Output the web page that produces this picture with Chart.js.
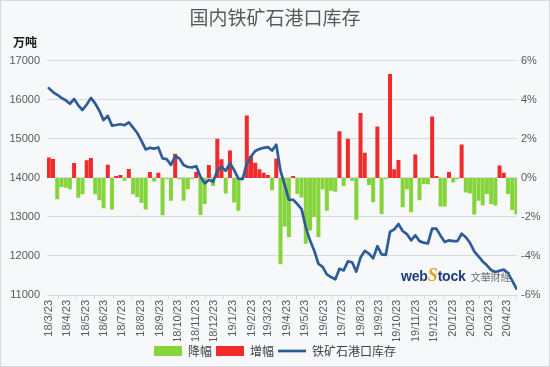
<!DOCTYPE html>
<html>
<head>
<meta charset="utf-8">
<script src="https://cdn.jsdelivr.net/npm/chart.js@4.4.1/dist/chart.umd.min.js"></script>
<style>
html,body{margin:0;padding:0;background:#F7F8FA;}
#wrap{position:relative;width:550px;height:367px;overflow:hidden;}
canvas{display:block;}
#frame{position:absolute;left:0;top:0;width:548px;height:365px;border:1px solid #D6D9DD;pointer-events:none;}
#unit{position:absolute;left:13px;top:34px;font:bold 12px 'Noto Sans CJK SC';color:#1a1a1a;line-height:16px;}
#wm{position:absolute;left:401px;top:265px;white-space:nowrap;line-height:18px;}
#wm .w{font:bold 14px 'Liberation Sans';color:#1E3C78;letter-spacing:-0.2px;}
#wm .s{font:bold italic 18px 'Liberation Serif';color:#E3A21A;}
#wm .c{font:10px 'Noto Sans CJK TC';color:#6a6a6a;margin-left:5px;}
</style>
</head>
<body>
<div id="wrap">
<canvas id="c" width="550" height="367"></canvas>
<div id="unit">万吨</div>
<div id="wm"><span class="w">web</span><span class="s">S</span><span class="w">tock</span><span class="c">文華財經</span></div>
<div id="frame"></div>
</div>
<script>
const weekDates = [
'2018-03-23','2018-03-30','2018-04-06','2018-04-13','2018-04-20','2018-04-27','2018-05-04','2018-05-11','2018-05-18','2018-05-25',
'2018-06-01','2018-06-08','2018-06-15','2018-06-22','2018-06-29','2018-07-06','2018-07-13','2018-07-20','2018-07-27','2018-08-03',
'2018-08-10','2018-08-17','2018-08-24','2018-08-31','2018-09-07','2018-09-14','2018-09-21','2018-09-28','2018-10-05','2018-10-12',
'2018-10-19','2018-10-26','2018-11-02','2018-11-09','2018-11-16','2018-11-23','2018-11-30','2018-12-07','2018-12-14','2018-12-21',
'2018-12-28','2019-01-04','2019-01-11','2019-01-18','2019-01-25','2019-02-01','2019-02-08','2019-02-15','2019-02-22','2019-03-01',
'2019-03-08','2019-03-15','2019-03-22','2019-03-29','2019-04-05','2019-04-12','2019-04-19','2019-04-26','2019-05-03','2019-05-10',
'2019-05-17','2019-05-24','2019-05-31','2019-06-07','2019-06-14','2019-06-21','2019-06-28','2019-07-05','2019-07-12','2019-07-19',
'2019-07-26','2019-08-02','2019-08-09','2019-08-16','2019-08-23','2019-08-30','2019-09-06','2019-09-13','2019-09-20','2019-09-27',
'2019-10-04','2019-10-11','2019-10-18','2019-10-25','2019-11-01','2019-11-08','2019-11-15','2019-11-22','2019-11-29','2019-12-06',
'2019-12-13','2019-12-20','2019-12-27','2020-01-03','2020-01-10','2020-01-17','2020-01-24','2020-01-31','2020-02-07','2020-02-14',
'2020-02-21','2020-02-28','2020-03-06','2020-03-13','2020-03-20','2020-03-27','2020-04-03','2020-04-10','2020-04-17','2020-04-24',
'2020-05-01','2020-05-08'
];

// 铁矿石港口库存 (万吨)
const stockLevels = [
16300,16200,16130,16050,15990,15900,16020,15860,15740,15880,
16050,15910,15720,15480,15590,15340,15355,15375,15350,15420,
15290,15150,14950,14730,14770,14750,14780,14500,14480,14330,
14560,14500,14330,14280,14270,14300,14030,13860,13950,13900,
14180,14290,14180,14380,14200,13980,13970,14370,14550,14690,
14740,14770,14790,14700,14850,14180,13820,13440,13440,13330,
13200,12740,12400,12140,11800,11720,11530,11460,11400,11670,
11630,11860,11840,11600,11960,12130,12060,11940,12250,12040,
12030,12620,12680,12820,12640,12560,12400,12530,12380,12340,
12320,12700,12700,12520,12360,12400,12380,12380,12570,12480,
12330,12120,11990,11860,11760,11640,11590,11620,11650,11560,
11370,11165
];

// 周变化幅度 (%)
const weeklyChangePct = [
1.05,0.97,-1.10,-0.47,-0.50,-0.58,0.76,-1.02,-0.84,0.91,
1.02,-0.84,-1.15,-1.55,0.67,-1.62,0.10,0.15,-0.15,0.45,
-0.84,-0.98,-1.28,-1.62,0.30,-0.19,0.26,-1.91,-0.05,-1.17,
1.24,-0.07,-1.17,-0.58,-0.05,0.30,-1.90,-1.34,0.66,-0.41,
2.00,0.95,-0.80,1.41,-1.26,-1.68,-0.05,3.20,1.12,0.78,
0.44,0.27,0.15,-0.63,1.00,-4.42,-2.49,-3.03,0.10,-0.83,
-1.00,-3.37,-2.70,-2.00,-3.03,-0.58,-1.68,-0.66,-0.71,2.39,
-0.41,2.00,-0.15,-2.15,3.32,1.29,-0.36,-1.25,2.64,-1.85,
-0.07,5.32,0.44,0.92,-1.50,-0.58,-1.76,1.20,-1.14,-0.32,
-0.32,3.15,0.10,-1.47,-1.47,0.30,-0.24,-0.05,1.71,-0.75,
-0.80,-1.88,-1.17,-1.42,-0.83,-1.34,-1.42,0.64,0.27,-0.83,
-1.64,-1.88
];

const tickLabels = [
'18/3/23','18/4/23','18/5/23','18/6/23','18/7/23','18/8/23','18/9/23','18/10/23','18/11/23','18/12/23',
'19/1/23','19/2/23','19/3/23','19/4/23','19/5/23','19/6/23','19/7/23','19/8/23','19/9/23','19/10/23',
'19/11/23','19/12/23','20/1/23','20/2/23','20/3/23','20/4/23'
];

const leftTicks = [11000, 17000, 1000];
const rightTicks = [-6, 6, 2];

const seriesNames = ['降幅', '增幅', '铁矿石港口库存'];
const GREEN = '#86D43C', RED = '#EF2B2B', BLUE = '#2E5C98';

const DAY = 86400000;
const t0 = Date.parse(weekDates[0] + 'T00:00:00Z');
const dayOf = iso => Math.round((Date.parse(iso + 'T00:00:00Z') - t0) / DAY);
const tickDay = lbl => {
  const [yy, m, d] = lbl.split('/').map(Number);
  return Math.round((Date.UTC(2000 + yy, m - 1, d) - t0) / DAY);
};

const declines = [], increases = [];
weekDates.forEach((d, i) => {
  const p = { x: dayOf(d), y: weeklyChangePct[i] };
  (weeklyChangePct[i] < 0 ? declines : increases).push(p);
});
const stockPts = weekDates.map((d, i) => ({ x: dayOf(d), y: stockLevels[i] }));
const lastDay = dayOf(weekDates[weekDates.length - 1]);

const tickFont = { family: "'Liberation Sans', Arial, sans-serif", size: 11 };

new Chart(document.getElementById('c'), {
  type: 'bar',
  data: {
    datasets: [
      { type: 'bar', label: seriesNames[0], data: declines, backgroundColor: GREEN, borderWidth: 0,
        yAxisID: 'yPct', grouped: false, categoryPercentage: 1, barPercentage: 0.95, order: 1 },
      { type: 'bar', label: seriesNames[1], data: increases, backgroundColor: RED, borderWidth: 0,
        yAxisID: 'yPct', grouped: false, categoryPercentage: 1, barPercentage: 0.95, order: 1 },
      { type: 'line', label: seriesNames[2], data: stockPts, borderColor: BLUE, backgroundColor: BLUE,
        borderWidth: 2.7, pointRadius: 0, tension: 0, yAxisID: 'y', order: 0,
        borderJoinStyle: 'round', borderCapStyle: 'round' }
    ]
  },
  options: {
    responsive: false,
    animation: false,
    devicePixelRatio: 1,
    layout: { padding: 0 },
    plugins: {
      title: { display: true, text: '国内铁矿石港口库存', color: '#595959',
        font: { family: "'Noto Sans CJK SC'", size: 19, weight: 'normal' },
        padding: { top: 6, bottom: 32 } },
      legend: {
        position: 'bottom',
        labels: {
          usePointStyle: true, pointStyleWidth: 28, boxHeight: 10, padding: 4,
          color: '#404040', font: { family: "'Noto Sans CJK SC'", size: 12 },
          sort: (a, b) => a.datasetIndex - b.datasetIndex,
          generateLabels(chart) {
            const items = Chart.defaults.plugins.legend.labels.generateLabels(chart);
            items.forEach(it => {
              it.pointStyle = chart.data.datasets[it.datasetIndex].type === 'line' ? 'line' : 'rect';
            });
            return items;
          }
        }
      },
      tooltip: { enabled: false }
    },
    scales: {
      x: {
        type: 'linear', offset: false, min: -3, max: lastDay + 1,
        afterBuildTicks: s => { s.ticks = tickLabels.map(l => ({ value: tickDay(l) })); },
        afterFit: s => { s.height = 46; },
        ticks: { autoSkip: false, maxRotation: 90, minRotation: 90, padding: 1, color: '#595959', font: tickFont,
          callback: (v, i) => tickLabels[i] },
        grid: { display: true, drawOnChartArea: false, tickLength: 4, color: '#D9D9D9' },
        border: { display: false }
      },
      y: {
        type: 'linear', position: 'left', min: leftTicks[0], max: leftTicks[1],
        afterFit: s => { s.width = 47; },
        ticks: { stepSize: leftTicks[2], padding: 7, color: '#595959', font: tickFont, callback: v => String(v) },
        grid: { color: '#D9D9D9', drawTicks: false },
        border: { display: false }
      },
      yPct: {
        type: 'linear', position: 'right', min: rightTicks[0], max: rightTicks[1],
        afterFit: s => { s.width = 33; },
        ticks: { stepSize: rightTicks[2], padding: 4, color: '#595959', font: tickFont, callback: v => v + '%' },
        grid: { display: false, drawTicks: false },
        border: { display: false }
      }
    }
  }
});
</script>
</body>
</html>
